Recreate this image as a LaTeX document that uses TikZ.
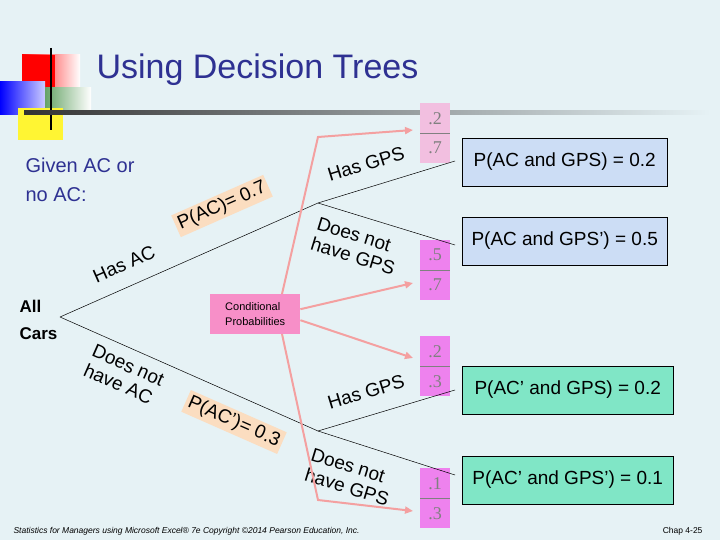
\documentclass[tikz,border=0pt]{standalone}
\usepackage{fontspec}
\setmainfont{Liberation Sans}
\newfontfamily\fracfont{Liberation Serif}
\usetikzlibrary{arrows.meta}
\definecolor{bg}{HTML}{E6F2F5}
\definecolor{navy}{HTML}{2E3192}
\definecolor{peach}{HTML}{FBDDC0}
\definecolor{salmon}{HTML}{F4A0A0}
\definecolor{lpink}{HTML}{F2BFE0}
\definecolor{mag}{HTML}{EE82EE}
\definecolor{cpink}{HTML}{F78FC8}
\definecolor{bluebox}{HTML}{CCDDF5}
\definecolor{greenbox}{HTML}{80E6C6}
\tikzset{x=1pt,y=-1pt,
 br/.style={draw=black,line width=0.5pt},
 lab/.style={font=\fontsize{19}{21}\selectfont,align=left,inner sep=1pt},
 plab/.style={lab,fill=peach,inner sep=3pt},
 res/.style={draw=black,font=\fontsize{19}{20}\selectfont,minimum height=48,anchor=west,inner xsep=5pt},
 ar/.style={salmon,line width=2pt,-{Triangle[length=8pt,width=7pt]}},
 frac/.style={minimum width=30,minimum height=30,inner sep=0pt,font=\fracfont\fontsize{18}{18}\selectfont,text=gray},
}
\begin{document}
\begin{tikzpicture}
\fill[bg] (0,0) rectangle (720,540);
\useasboundingbox (0,0) rectangle (720,540);
% logo
\shade[left color=red,right color=white] (22,55) rectangle (80,88);
\fill[red] (22,55) rectangle (55,88);
\shade[left color=blue,right color=white!80!blue] (0,82) rectangle (45,115);
\shade[left color=green!40!black!60,right color=white] (45,88) rectangle (91,115);
\fill[yellow!80] (18,108) rectangle (63,140);
\draw[line width=2pt] (51,48) -- (51,130);
\shade[left color=black!80,right color=bg] (24,111) rectangle (710,115);
\node[anchor=west,text=navy,font=\fontsize{34}{36}\selectfont] (title) at (93,70) {Using Decision Trees};
\node[anchor=north west,text=navy,font=\fontsize{20}{29}\selectfont,align=left] (given) at (22,154) {Given AC or\\no AC:};
\node[anchor=west,font=\bfseries\fontsize{17}{27}\selectfont,align=left] (all) at (16,320) {All\\Cars};
% tree
\coordinate (r) at (60,317);
\coordinate (a) at (318,203);
\coordinate (b) at (318,431);
\coordinate (e1) at (455,161);
\coordinate (e2) at (455,245);
\coordinate (e3) at (455,390);
\coordinate (e4) at (455,475);
% fraction boxes
\node[frac,fill=lpink,anchor=north west] (f1) at (420,103) {.2};
\node[frac,fill=lpink,anchor=north west] (f2) at (420,133) {.7};
\node[frac,fill=mag,anchor=north west] (f3) at (420,240) {.5};
\node[frac,fill=mag,anchor=north west] (f4) at (420,270) {.7};
\node[frac,fill=mag,anchor=north west] (f5) at (420,336) {.2};
\node[frac,fill=mag,anchor=north west] (f6) at (420,366) {.3};
\node[frac,fill=mag,anchor=north west] (f7) at (420,468) {.1};
\node[frac,fill=mag,anchor=north west] (f8) at (420,498) {.3};
\foreach \f in {f1,f3,f5,f7} \draw[gray,line width=0.6pt] (\f.south west)--(\f.south east);
\draw[br] (r) -- (a) -- (e1);
\draw[br] (a) -- (e2);
\draw[br] (r) -- (b) -- (e3);
\draw[br] (b) -- (e4);
% labels
\node[lab,rotate=23.8] (hasac) at (124,264) {Has AC};
\node[plab,rotate=23.8] (pac) at (222,206) {P(AC)= 0.7};
\node[lab,rotate=-23.8,align=left] (noac) at (124,375) {Does not\\have AC};
\node[plab,rotate=-23.8] (pacn) at (234,422) {P(AC’)= 0.3};
\node[lab,rotate=17] (g1) at (366,164) {Has GPS};
\node[lab,rotate=-17] (g2) at (356,246) {Does not\\have GPS};
\node[lab,rotate=17] (g3) at (366,392) {Has GPS};
\node[lab,rotate=-17] (g4) at (350,477) {Does not\\have GPS};
% conditional box + arrows
\node[fill=cpink,font=\fontsize{11}{15}\selectfont,align=left,minimum width=90,minimum height=40,anchor=north west] (cp) at (210,294) {Conditional\\Probabilities};
\draw[ar] (282,294) -- (318,137) -- (413,130);
\draw[ar] (cp.east) ++(0,-5) -- (413,283);
\draw[ar] (cp.east) ++(0,6) -- (413,358);
\draw[ar] (282,334) -- (318,500) -- (413,511);
% results
\node[res,fill=bluebox,minimum width=205] (r1) at (462,162) {P(AC and GPS) = 0.2};
\node[res,fill=bluebox,minimum width=205] (r2) at (462,241) {P(AC and GPS’) = 0.5};
\node[res,fill=greenbox,minimum width=211] (r3) at (462,390) {P(AC’ and GPS) = 0.2};
\node[res,fill=greenbox,minimum width=211] (r4) at (462,480) {P(AC’ and GPS’) = 0.1};
% footer
\node[anchor=west,font=\itshape\fontsize{8.5}{9}\selectfont] (foot) at (10,531) {Statistics for Managers using Microsoft Excel® 7e Copyright ©2014 Pearson Education, Inc.};
\node[anchor=east,font=\fontsize{8.5}{9}\selectfont] (chap) at (706,531) {Chap 4-25};
\end{tikzpicture}
\end{document}
